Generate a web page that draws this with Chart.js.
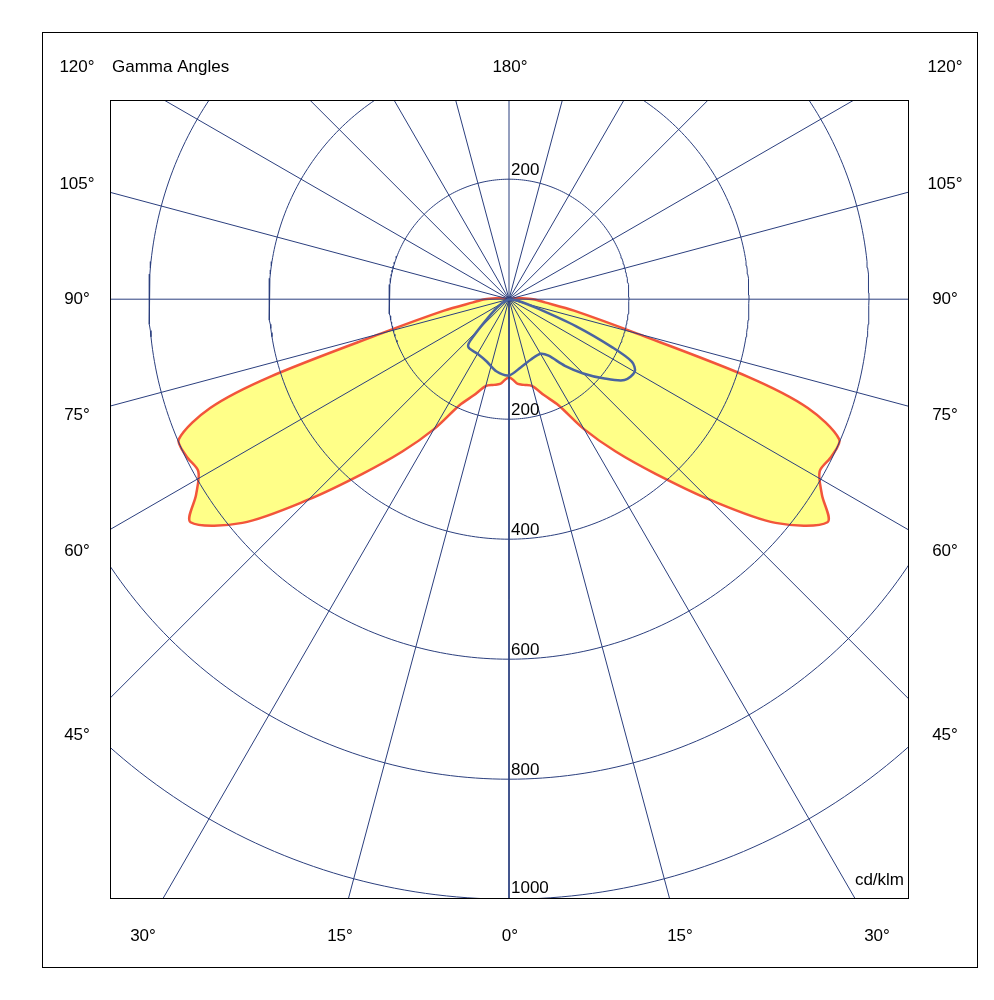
<!DOCTYPE html>
<html>
<head>
<meta charset="utf-8">
<script src="https://cdn.jsdelivr.net/npm/chart.js@4.4.0/dist/chart.umd.min.js"></script>
<style>
  body { margin: 0; background: #fff; }
  #wrap { width: 994px; height: 1000px; position: relative; }
</style>
</head>
<body>
<div id="wrap"><canvas id="polar"></canvas></div>
<script>
// gamma angles (deg, 0 = straight down) and intensities in cd/klm
const gammaC0 = [0, 3, 6, 10, 15, 20, 25, 30, 35, 40, 45, 50, 55, 58, 61, 64, 67, 70, 72, 75, 80, 85, 90, 95, 100, 180];
const intensityC0 = [130, 135, 142, 145, 150, 170, 195, 250, 310, 380, 472, 580, 648, 615, 592, 598, 598, 530, 420, 220, 110, 60, 40, 20, 10, 0];

const gammaC90Left = [0, 10, 20, 30, 40, 43, 50, 60, 90];
const intensityC90Left = [127, 122, 110, 105, 105, 95, 40, 15, 0];
const gammaC90Right = [0, 10, 20, 30, 35, 40, 45, 50, 55, 60, 63, 65, 68, 72, 80, 90];
const intensityC90Right = [127, 115, 107, 105, 115, 145, 175, 205, 235, 242, 230, 190, 120, 50, 15, 0];

const rings = [200, 400, 600, 800, 1000, 1200];
const spokes = [0, 15, 30, 45, 60, 75, 90, 105, 120, 135, 150, 165, 180];

function toXY(g, r, side) {
    const a = g * Math.PI / 180;
    return { x: side * r * Math.sin(a), y: -r * Math.cos(a) };
}

// red curve: left half from top down to 0, then right half back up
const redPts = [];
for (let i = gammaC0.length - 1; i >= 1; i--) redPts.push(toXY(gammaC0[i], intensityC0[i], -1));
for (let i = 0; i < gammaC0.length; i++) redPts.push(toXY(gammaC0[i], intensityC0[i], 1));

const bluePts = [];
for (let i = gammaC90Left.length - 1; i >= 1; i--) bluePts.push(toXY(gammaC90Left[i], intensityC90Left[i], -1));
for (let i = 0; i < gammaC90Right.length; i++) bluePts.push(toXY(gammaC90Right[i], intensityC90Right[i], 1));

const gridColor = '#2b3f7e';
const datasets = [];
datasets.push({ data: redPts, showLine: true, borderColor: '#f2553b', borderWidth: 2.5,
    backgroundColor: '#ffff88', fill: 'shape', pointRadius: 0, order: 10, tension: 0.3 });
rings.forEach(r => {
    const pts = [];
    for (let a = 0; a <= 360; a += 1) pts.push(toXY(a, r, 1));
    datasets.push({ data: pts, showLine: true, borderColor: gridColor, borderWidth: 1, pointRadius: 0, order: 5 });
});
spokes.forEach(g => {
    const sides = (g === 0 || g === 180) ? [1] : [-1, 1];
    sides.forEach(s => {
        datasets.push({ data: [{ x: 0, y: 0 }, toXY(g, 1600, s)], showLine: true,
            borderColor: gridColor, borderWidth: 1, pointRadius: 0, order: 5 });
    });
});
datasets.push({ data: bluePts, showLine: true, borderColor: '#4a64a0', borderWidth: 2.5,
    pointRadius: 0, order: 1, tension: 0.3 });

// text labels placed in pixels
const sideLabels = [['120°', 67], ['105°', 184], ['90°', 299], ['75°', 415], ['60°', 551], ['45°', 735]];
const bottomLabels = [['30°', 143], ['15°', 340], ['0°', 510], ['15°', 680], ['30°', 877]];
const ringLabels = [['200', 170], ['200', 410], ['400', 530], ['600', 650], ['800', 770], ['1000', 888]];

const decor = {
    id: 'decor',
    afterDraw(chart) {
        const c = chart.ctx;
        const area = chart.chartArea;
        c.save();
        c.strokeStyle = '#000';
        c.lineWidth = 1;
        c.strokeRect(42.5, 32.5, 935, 935);
        c.strokeRect(area.left + 0.5, area.top + 0.5, area.right - area.left, area.bottom - area.top);
        c.fillStyle = '#000';
        c.font = '17px "Liberation Sans", Arial, sans-serif';
        c.textBaseline = 'middle';
        c.textAlign = 'center';
        sideLabels.forEach(([t, y]) => { c.fillText(t, 77, y); c.fillText(t, 945, y); });
        bottomLabels.forEach(([t, x]) => c.fillText(t, x, 936));
        c.fillText('180°', 510, 67);
        c.textAlign = 'left';
        c.fillText('Gamma Angles', 112, 67);
        ringLabels.forEach(([t, y]) => c.fillText(t, 511, y));
        c.textAlign = 'right';
        c.fillText('cd/klm', 904, 880);
        c.restore();
    }
};

new Chart(document.getElementById('polar'), {
    type: 'scatter',
    data: { datasets: datasets },
    options: {
        responsive: true,
        maintainAspectRatio: false,
        animation: false,
        layout: { padding: { left: 110, right: 86, top: 100, bottom: 102 } },
        scales: {
            x: { type: 'linear', min: -665, max: 665, display: false },
            y: { type: 'linear', min: -998, max: 332, display: false }
        },
        plugins: { legend: { display: false }, tooltip: { enabled: false } }
    },
    plugins: [decor]
});
</script>
</body>
</html>
